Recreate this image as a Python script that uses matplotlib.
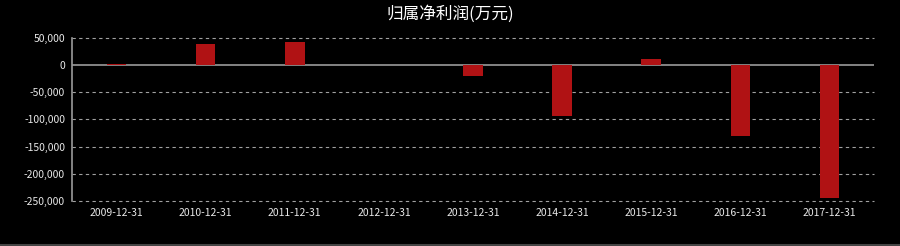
import matplotlib
matplotlib.use('Agg')
import matplotlib.pyplot as plt
from matplotlib.ticker import FuncFormatter

plt.rcParams['font.family'] = ['Noto Sans CJK SC', 'DejaVu Sans']

# data (万元)
dates = ['2009-12-31', '2010-12-31', '2011-12-31', '2012-12-31', '2013-12-31',
         '2014-12-31', '2015-12-31', '2016-12-31', '2017-12-31']
profit = [1500, 38500, 41500, 0, -20500, -94000, 10500, -130500, -244000]
yticks = [50000, 0, -50000, -100000, -150000, -200000, -250000]

fig = plt.figure(figsize=(9, 2.46), dpi=100, facecolor='black')
ax = fig.add_axes([72/900, 1-201/246, (874-72)/900, (201-37.5)/246])
ax.set_facecolor('black')

x = range(len(dates))
ax.bar(x, profit, width=0.22, color='#b01214', zorder=3)
ax.axhline(0, color='#9a9a9a', lw=1.2, zorder=2)

ax.set_xlim(-0.5, len(dates) - 0.5)
ax.set_ylim(-250000, 50000)
ax.set_yticks(yticks)
ax.yaxis.set_major_formatter(FuncFormatter(lambda v, p: '{:,.0f}'.format(v)))
ax.set_xticks(list(x))
ax.set_xticklabels(dates)
ax.tick_params(colors='#e8e8e8', labelsize=7.5, length=0, pad=5)

for v in yticks:
    if v != 0:
        ax.axhline(v, color='#a0a0a0', lw=0.8, ls=(0, (3, 3)), zorder=1,
                   clip_on=False)

for s in ['top', 'right', 'bottom']:
    ax.spines[s].set_visible(False)
ax.spines['left'].set_color('#9a9a9a')
ax.spines['left'].set_linewidth(1.2)

fig.text(0.5, 1-14/246, '归属净利润(万元)', color='white', fontsize=12,
         ha='center', va='center')

fig.add_artist(plt.Line2D([0, 1], [0.004, 0.004], color='#444444', lw=1.5,
                          transform=fig.transFigure))

fig.savefig('out.png', dpi=100, facecolor='black')
